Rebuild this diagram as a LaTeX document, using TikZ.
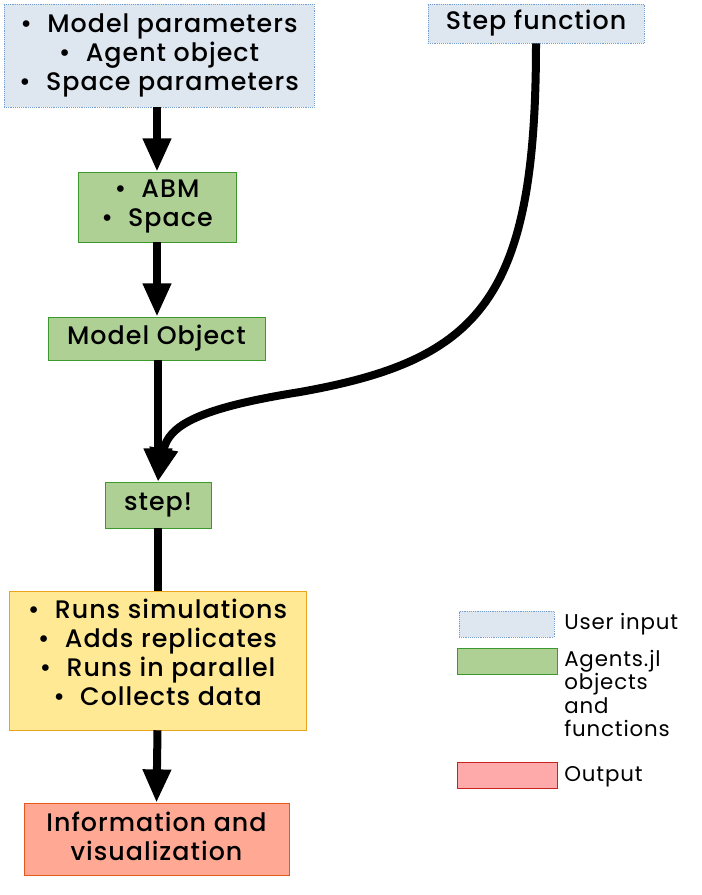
\documentclass[tikz,border=0pt]{standalone}
\usepackage{fontspec}
\setmainfont{Poppins}[BoldFont={Poppins Medium},LetterSpace=4]
\usetikzlibrary{arrows.meta}
\definecolor{inputfill}{HTML}{DEE6EF}
\definecolor{inputline}{HTML}{729FCF}
\definecolor{agentfill}{HTML}{AFD095}
\definecolor{agentline}{HTML}{3C9A2C}
\definecolor{runfill}{HTML}{FFE994}
\definecolor{runline}{HTML}{EAA41B}
\definecolor{outfill}{HTML}{FFA995}
\definecolor{outline}{HTML}{E8581E}
\definecolor{legoutfill}{HTML}{FFAAAA}
\definecolor{legoutline}{HTML}{C9211E}
\begin{document}
\begin{tikzpicture}[x=0.75pt,y=-0.75pt,
  every node/.style={font=\fontsize{19}{21.75}\selectfont\bfseries,align=center,inner sep=0pt},
  input/.style={draw=inputline,fill=inputfill,densely dotted,thin},
  agent/.style={draw=agentline,fill=agentfill,thin},
  runs/.style={draw=runline,fill=runfill,thin},
  result/.style={draw=outline,fill=outfill,thin},
  legtext/.style={font=\fontsize{16}{17.6}\selectfont,align=left,anchor=north west},
  flow/.style={line width=6pt,-{Triangle[width=20pt,length=25pt]}}]
\useasboundingbox (0,0) rectangle (701,895);
% user input
\node[input,minimum width=232.5pt,minimum height=77.25pt] (params) at (159,55.5) {\textbullet\ \ Model parameters\\ \textbullet\ \ Agent object\\ \textbullet\ \ Space parameters};
\node[input,minimum width=162pt,minimum height=29.25pt] (stepfn) at (536,23.5) {Step function};
% Agents.jl objects
\node[agent,minimum width=118.5pt,minimum height=52.5pt] (abm) at (157,207) {\textbullet\ \ ABM\\ \textbullet\ \ Space};
\node[agent,minimum width=162.75pt,minimum height=32.25pt] (model) at (156.5,338.5) {Model Object};
\node[agent,minimum width=79.5pt,minimum height=34.5pt] (stepnode) at (158,505) {step!};
\node[runs,minimum width=222.75pt,minimum height=104.25pt,text depth=12pt] (simrun) at (157.5,660.5) {\textbullet\ \ Runs simulations\\ \textbullet\ \ Adds replicates\\ \textbullet\ \ Runs in parallel\\ \textbullet\ \ Collects data};
\node[result,minimum width=198.75pt,minimum height=54pt,text depth=4.5pt] (info) at (156.5,839) {Information and\\ visualization};
% flow
\draw[flow] (abm.north |- params.south) -- (abm.north);
\draw[flow] (abm.south) -- (abm.south |- model.north);
\draw[flow] (stepnode.north |- model.south) -- (stepnode.north);
\draw[flow] (stepfn.south) .. controls (536,300) and (480,360) .. (300,392) .. controls (200,408) and (168,425) .. (stepnode.north);
\draw[line width=6pt] (stepnode.south) -- (stepnode.south |- simrun.north);
\draw[flow] (simrun.south) -- (info.north);
% legend
\node[input,minimum width=71.25pt,minimum height=19.5pt] (leginput) at (506.5,624) {};
\node[agent,minimum width=75pt,minimum height=19.5pt] (legagent) at (507,661) {};
\node[draw=legoutline,fill=legoutfill,thin,minimum width=75pt,minimum height=19.5pt] (legout) at (507,775) {};
\node[legtext] (leginputtext) at (564,613) {User input};
\node[legtext] (legagenttext) at (564,650) {Agents.jl\\ objects\\ and\\ functions};
\node[legtext] (legouttext) at (564,766) {Output};
\end{tikzpicture}
\end{document}
